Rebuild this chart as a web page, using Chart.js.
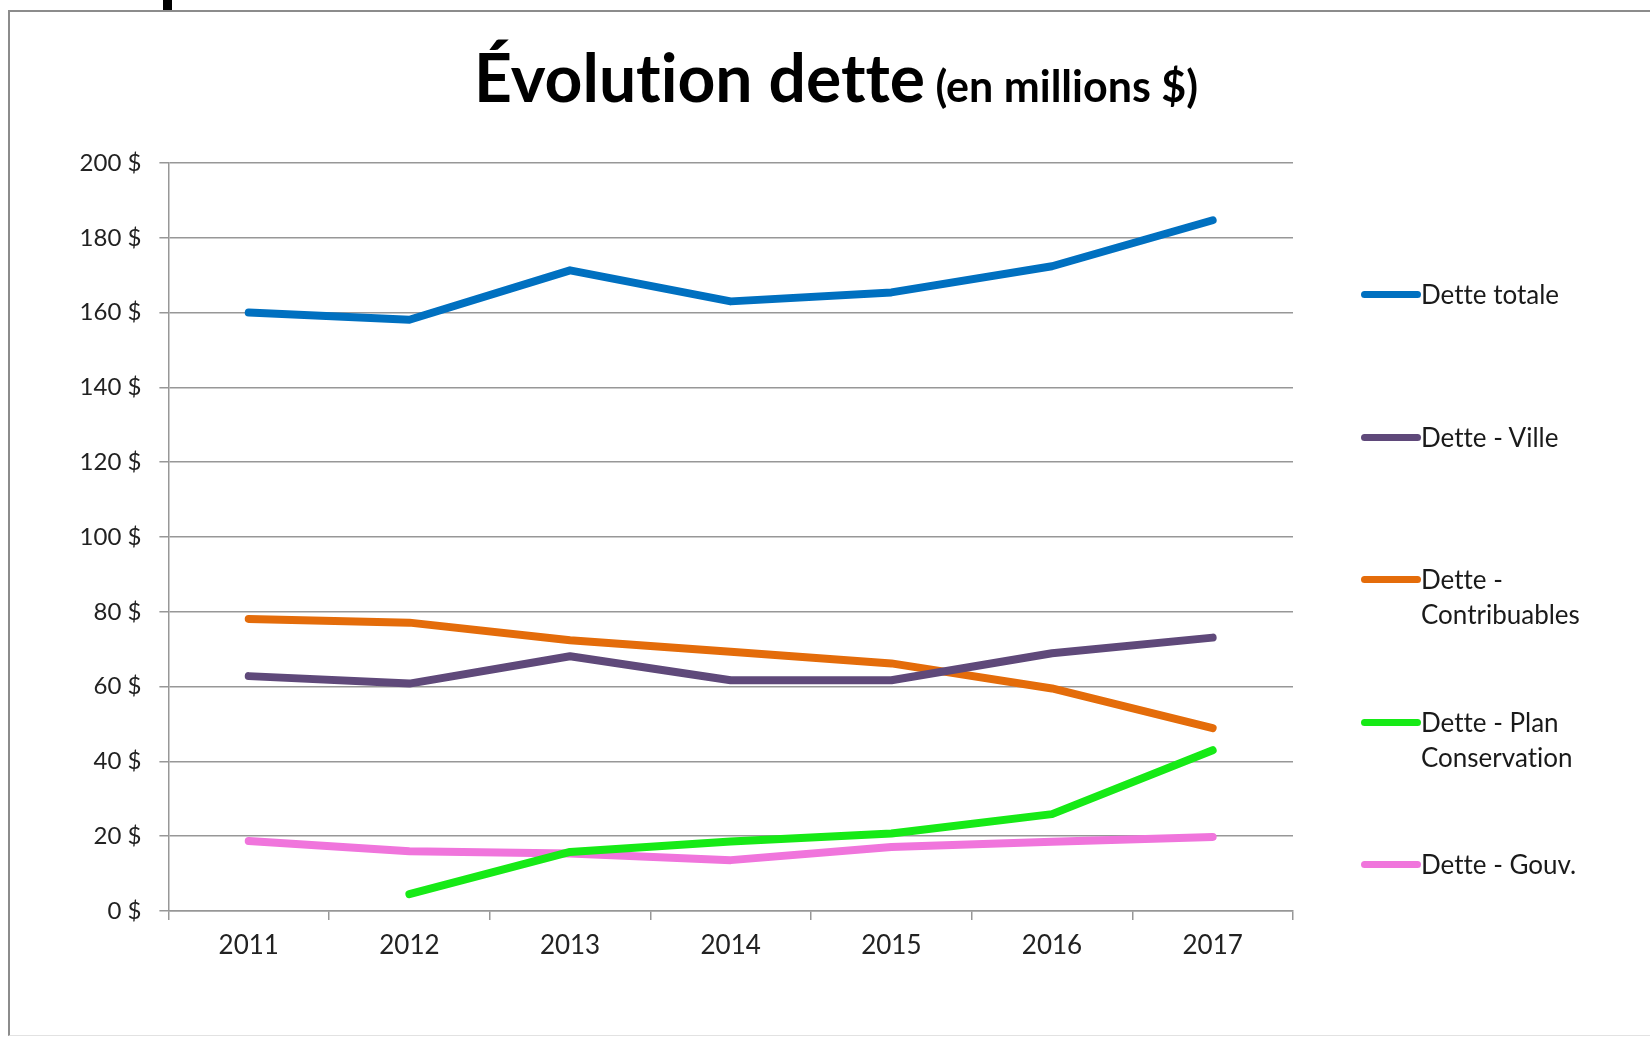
<!DOCTYPE html>
<html lang="fr">
<head>
  <meta charset="UTF-8" />
  <title>Évolution dette</title>
  <script src="https://cdn.jsdelivr.net/npm/chart.js"></script>
  <style>
    html, body {
      margin: 0;
      padding: 0;
      background: #fff;
    }
    body {
      width: 1650px;
      height: 1038px;
      position: relative;
      overflow: hidden;
      font-family: Lato, "Open Sans", sans-serif;
      font-variant-ligatures: none;
    }
    .frame {
      position: absolute;
      left: 8px;
      top: 10px;
      right: -4px;
      bottom: 2px;
      border-left: 2px solid #8c8c8c;
      border-top: 2px solid #8c8c8c;
      border-bottom: 1px solid #e2e2e2;
    }
    .mark {
      position: absolute;
      left: 163px;
      top: 0;
      width: 9px;
      height: 10px;
      background: #000;
    }
    #chart {
      position: absolute;
      left: 0;
      top: 0;
    }
    .title {
      position: absolute;
      left: 0;
      width: 1672px;
      top: 44px;
      text-align: center;
      font-weight: 700;
      color: #000;
      line-height: 1;
      white-space: nowrap;
      font-size: 43px;
    }
    .title .big { font-size: 66px; }
    .title .small { font-size: 43px; }
    .legend-item {
      position: absolute;
      left: 1361px;
      display: flex;
      align-items: flex-start;
      font-size: 26px;
      line-height: 35px;
      color: #1a1a1a;
    }
    .legend-item .swatch {
      width: 60px;
      height: 7px;
      border-radius: 4px;
      margin-top: 14px;
      flex: none;
    }
  </style>
</head>
<body>
  <div class="frame"></div>
  <div class="mark"></div>
  <canvas id="chart" width="1650" height="1038"></canvas>
  <div class="title"><span class="big">Évolution dette</span> <span class="small">(en millions $)</span></div>
  <div id="legend"></div>
  <script>
    const years = ['2011', '2012', '2013', '2014', '2015', '2016', '2017'];

    const detteTotale = [160, 158.1, 171.3, 163, 165.4, 172.4, 184.7];
    const detteVille = [62.8, 60.8, 68.1, 61.7, 61.7, 68.9, 73.1];
    const detteContribuables = [78.1, 77.1, 72.4, 69.3, 66.2, 59.5, 48.9];
    const dettePlan = [null, 4.5, 15.8, 18.6, 20.7, 25.9, 43.0];
    const detteGouv = [18.7, 16.0, 15.4, 13.6, 17.1, 18.5, 19.8];

    const seriesNames = ['Dette totale', 'Dette - Ville', 'Dette - Contribuables', 'Dette - Plan Conservation', 'Dette - Gouv.'];
    const legendLines = [['Dette totale'], ['Dette - Ville'], ['Dette -', 'Contribuables'], ['Dette - Plan', 'Conservation'], ['Dette - Gouv.']];
    const seriesColors = ['#0070c0', '#5f497a', '#e46c0a', '#16ea16', '#f075dc'];
    const seriesValues = [detteTotale, detteVille, detteContribuables, dettePlan, detteGouv];

    const yTicks = [0, 20, 40, 60, 80, 100, 120, 140, 160, 180, 200];

    // legend in HTML, spaced like the original
    const legend = document.getElementById('legend');
    seriesNames.forEach((name, i) => {
      const item = document.createElement('div');
      item.className = 'legend-item';
      item.style.top = (277 + i * 142.6) + 'px';
      const sw = document.createElement('span');
      sw.className = 'swatch';
      sw.style.background = seriesColors[i];
      const txt = document.createElement('span');
      txt.innerHTML = legendLines[i].join('<br>');
      item.appendChild(sw);
      item.appendChild(txt);
      legend.appendChild(item);
    });

    const gridGrey = '#979797';

    new Chart(document.getElementById('chart').getContext('2d'), {
      type: 'line',
      data: {
        labels: years,
        datasets: seriesNames.map((name, i) => ({
          label: name,
          data: seriesValues[i],
          borderColor: seriesColors[i],
          backgroundColor: seriesColors[i],
          borderWidth: 8,
          borderCapStyle: 'round',
          borderJoinStyle: 'round',
          pointRadius: 0,
          tension: 0,
          fill: false
        }))
      },
      options: {
        responsive: false,
        animation: false,
        layout: { padding: { left: 10, top: 163, right: 357, bottom: 67 } },
        plugins: {
          legend: { display: false },
          title: { display: false },
          tooltip: { enabled: false }
        },
        scales: {
          x: {
            offset: true,
            grid: { offset: true, drawOnChartArea: false, tickLength: 9, color: gridGrey, lineWidth: 1.5 },
            border: { color: gridGrey, width: 1.5 },
            ticks: {
              color: '#222',
              padding: 10,
              maxRotation: 0,
              font: { family: "Lato, sans-serif", size: 26 }
            },
            afterFit: s => { s.height = 60; }
          },
          y: {
            min: 0,
            max: 200,
            afterBuildTicks: s => { s.ticks = yTicks.map(v => ({ value: v })); },
            ticks: {
              color: '#222',
              padding: 18,
              callback: v => v + ' $',
              font: { family: 'Lato, sans-serif', size: 24 }
            },
            grid: { color: gridGrey, lineWidth: 1.5, tickLength: 9 },
            border: { color: gridGrey, width: 1.5 },
            afterFit: s => { s.width = 158.4; }
          }
        }
      }
    });
  </script>
</body>
</html>
